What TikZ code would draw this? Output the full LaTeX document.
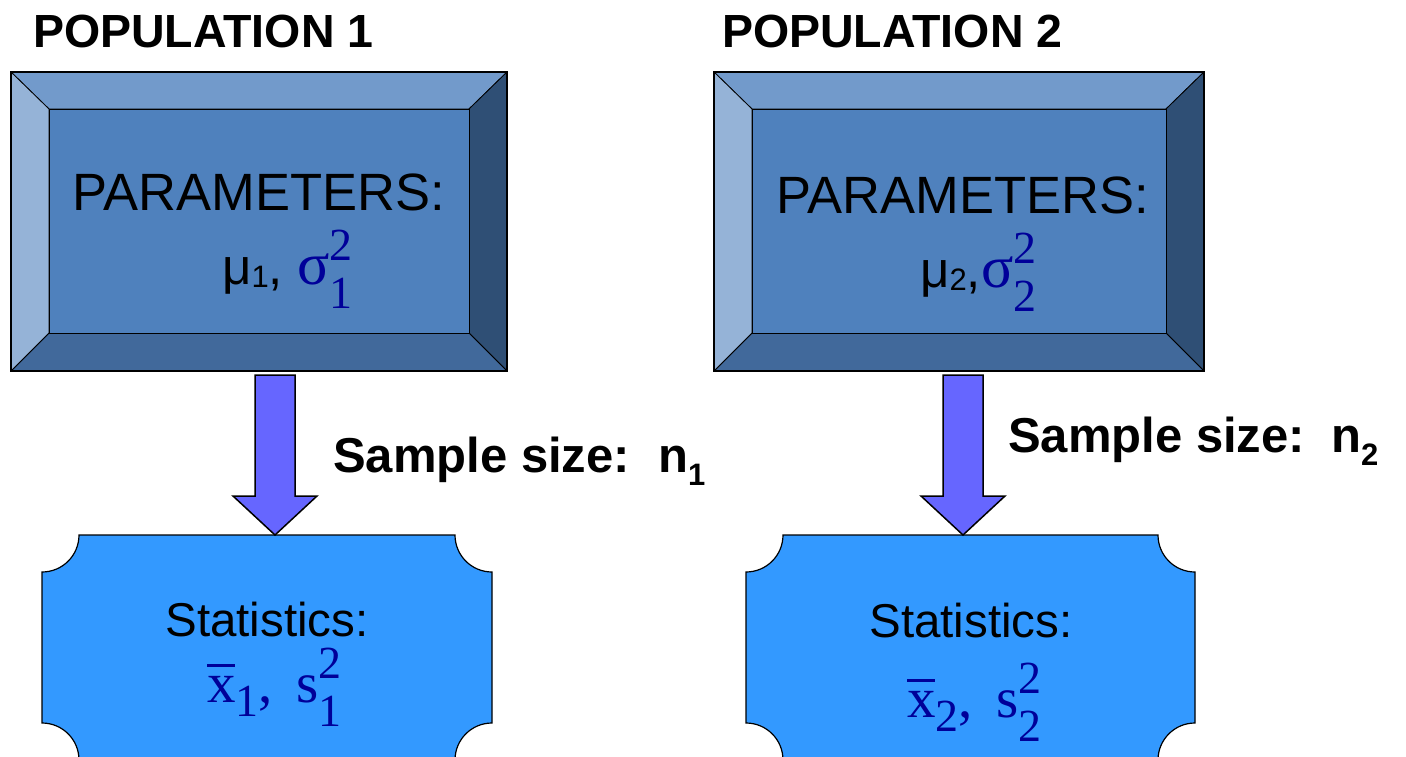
\documentclass[tikz,border=0pt]{standalone}
\usepackage{fontspec}
\setmainfont{Liberation Sans}
\newfontfamily\eqfont{Liberation Serif}
\usetikzlibrary{calc}
\definecolor{bevtop}{HTML}{729ACB}
\definecolor{bevleft}{HTML}{95B3D7}
\definecolor{bevface}{HTML}{4F81BD}
\definecolor{bevright}{HTML}{2F4F75}
\definecolor{bevbottom}{HTML}{41699B}
\definecolor{arrowblue}{HTML}{6666FF}
\definecolor{statblue}{HTML}{3399FF}
\definecolor{eqblue}{HTML}{000099}
\newcommand{\stackscript}[2]{{\fontsize{46}{46}\selectfont\rlap{\raisebox{24pt}{#1}}\raisebox{-24pt}{#2}}}
\newcommand{\xbar}{\rlap{\raisebox{35pt}{\rule{28pt}{3pt}}}x}
\newcommand{\musub}[1]{\raisebox{-3pt}{\fontsize{31}{31}\selectfont #1}}
\begin{document}
\begin{tikzpicture}[x=1pt,y=-1pt,
  bevel/.style={draw=black,line width=0.8pt,line join=round},
  blockarrow/.style={draw=black,line width=1.5pt,fill=arrowblue},
  plaque/.style={draw=black,line width=1.2pt,fill=statblue},
  poptitle/.style={font=\fontsize{46.5}{46.5}\selectfont\bfseries,anchor=base west,inner sep=0pt},
  partext/.style={font=\fontsize{52.5}{52.5}\selectfont,anchor=base,inner sep=0pt},
  sizetext/.style={font=\fontsize{49}{49}\selectfont\bfseries,anchor=base west,inner sep=0pt},
  stattext/.style={font=\fontsize{47.5}{47.5}\selectfont,anchor=base,inner sep=0pt},
  eqtext/.style={anchor=base west,inner sep=0pt}]
  \useasboundingbox (0,0) rectangle (1406,757);
  \clip (0,0) rectangle (1406,757);
  % bevelled population boxes
  \foreach \n/\xa/\xb in {1/11/507,2/714/1204}{
    \path (\xa,72) coordinate (A\n) (\xb,72) coordinate (B\n) (\xb,371) coordinate (C\n) (\xa,371) coordinate (D\n)
      (\xa+38,109) coordinate (a\n) (\xb-38,109) coordinate (b\n) (\xb-38,333) coordinate (c\n) (\xa+38,333) coordinate (d\n);
    \filldraw[bevel,fill=bevtop] (A\n)--(B\n)--(b\n)--(a\n)--cycle;
    \filldraw[bevel,fill=bevright] (B\n)--(C\n)--(c\n)--(b\n)--cycle;
    \filldraw[bevel,fill=bevbottom] (C\n)--(D\n)--(d\n)--(c\n)--cycle;
    \filldraw[bevel,fill=bevleft] (D\n)--(A\n)--(a\n)--(d\n)--cycle;
    \filldraw[bevel,fill=bevface] (a\n) rectangle (c\n);
    \draw[line width=1.6pt] (A\n) rectangle (C\n);
  }
  % statistics plaques
  \foreach \n/\xa/\xb in {1/42/492,2/746/1195}{
    \filldraw[plaque] (\xa+37,535) -- (\xb-37,535) arc[start angle=180,end angle=90,radius=37]
      -- (\xb,723) arc[start angle=270,end angle=180,radius=37]
      -- (\xa+37,760) arc[start angle=0,end angle=-90,radius=37]
      -- (\xa,572) arc[start angle=90,end angle=0,radius=37] -- cycle;
  }
  % block arrows
  \foreach \n/\xm in {1/275,2/963}{
    \path (\xm,375) coordinate (s\n) (\xm,535) coordinate (t\n);
    \filldraw[blockarrow] ($(s\n)+(-20,0)$) -- ($(s\n)+(20,0)$) -- ($(t\n)+(20,-39)$) -- ($(t\n)+(42,-39)$)
      -- (t\n) -- ($(t\n)+(-42,-39)$) -- ($(t\n)+(-20,-39)$) -- cycle;
  }
  \node[poptitle] (pop1) at (33,48) {POPULATION 1};
  \node[poptitle] (pop2) at (722,48) {POPULATION 2};
  \node[partext] (par1) at (259,210) {PARAMETERS:};
  \node[partext] (par2) at (963,213) {PARAMETERS:};
  \node[eqtext] (mu1) at (222,284) {\fontsize{51}{51}\selectfont μ\musub{1}, {\color{eqblue}\eqfont\fontsize{60}{60}\selectfont σ\stackscript{2}{1}}};
  \node[eqtext] (mu2) at (920,287) {\fontsize{51}{51}\selectfont μ\musub{2},{\color{eqblue}\eqfont\fontsize{60}{60}\selectfont σ\stackscript{2}{2}}};
  \node[sizetext] (n1) at (333,472) {Sample size:\hspace{10pt} n\raisebox{-13pt}{\fontsize{31}{31}\selectfont 1}};
  \node[sizetext] (n2) at (1008,452) {Sample size:\hspace{8pt} n\raisebox{-13pt}{\fontsize{31}{31}\selectfont 2}};
  \node[stattext] (stat1) at (267,636) {Statistics:};
  \node[stattext] (stat2) at (971,637) {Statistics:};
  \node[eqtext,text=eqblue] (xs1) at (207,702) {\eqfont\fontsize{57}{57}\selectfont \xbar\raisebox{-14pt}{\fontsize{46}{46}\selectfont 1}, \,s\stackscript{2}{1}};
  \node[eqtext,text=eqblue] (xs2) at (907,717) {\eqfont\fontsize{57}{57}\selectfont \xbar\raisebox{-14pt}{\fontsize{46}{46}\selectfont 2}, \,s\stackscript{2}{2}};
\end{tikzpicture}
\end{document}
